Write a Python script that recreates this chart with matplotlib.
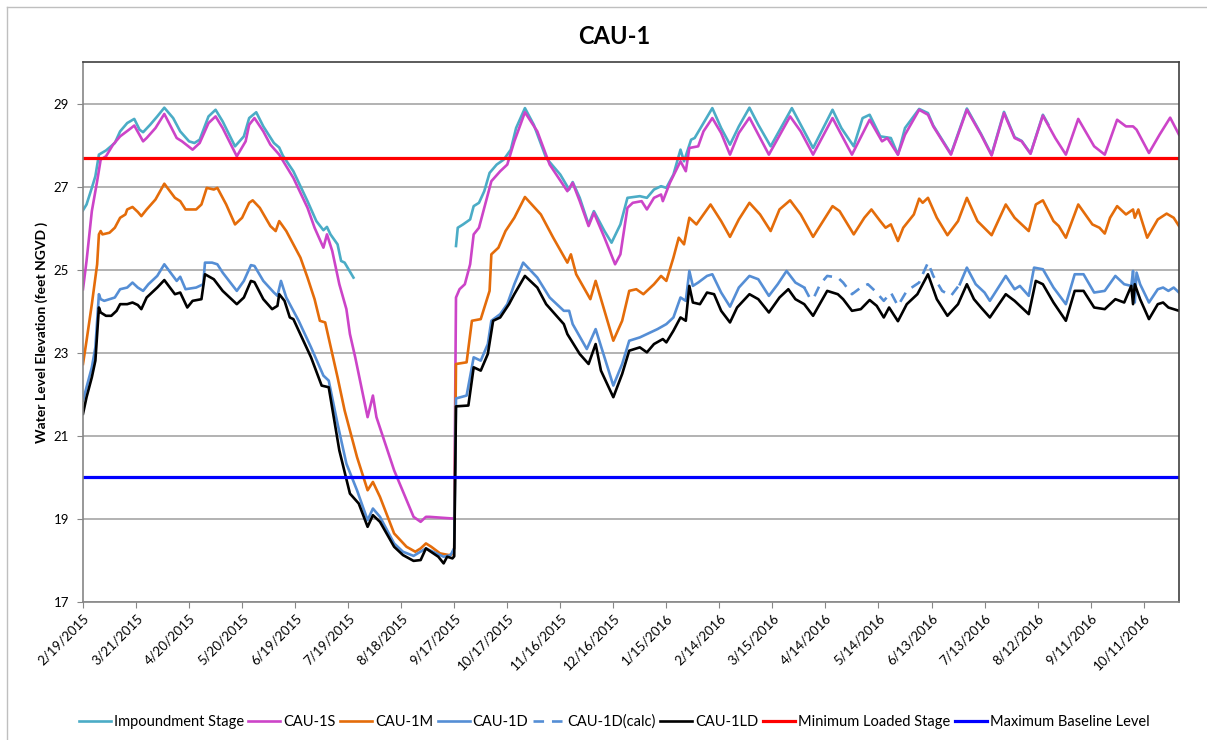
from datetime import datetime, timedelta
import numpy as np
import matplotlib
matplotlib.use('Agg')
import matplotlib.pyplot as plt
from matplotlib.lines import Line2D

plt.rcParams['font.family'] = ['Lato', 'DejaVu Sans']

# data: day offsets from 2/19/2015, water levels in feet
start = datetime(2015, 2, 19)

imp_days_a = [0, 2, 5, 7, 9, 13, 18, 21, 25, 29, 32, 34, 38, 42, 46, 51, 55, 60, 63, 66,
              71, 75, 79, 86, 91, 94, 98, 102, 108, 111, 113, 119, 127, 132, 136, 138,
              140, 144, 146, 148, 153]
imp_vals_a = [26.43, 26.57, 26.97, 27.25, 27.77, 27.87, 28.05, 28.33, 28.53, 28.63, 28.37,
              28.31, 28.49, 28.69, 28.90, 28.65, 28.33, 28.09, 28.05, 28.13, 28.69, 28.85,
              28.57, 27.97, 28.21, 28.65, 28.79, 28.45, 28.05, 27.94, 27.75, 27.37, 26.65,
              26.17, 25.95, 26.03, 25.85, 25.61, 25.21, 25.17, 24.81]
imp_days_b = [211, 212, 215, 219, 221, 224, 227, 230, 234, 238, 242, 245, 250, 255, 262,
              270, 275, 277, 281, 286, 289, 295, 299, 304, 308, 315, 319, 323, 327, 330,
              334, 338, 340, 344, 346, 351, 356, 361, 366, 371, 377, 382, 389, 401, 406,
              413, 424, 429, 436, 441, 445, 451, 457, 461, 465, 473, 478, 481, 491, 500,
              508, 514, 521, 527, 531, 536, 543, 546]
imp_vals_b = [25.57, 26.01, 26.09, 26.21, 26.53, 26.61, 26.89, 27.33, 27.53, 27.65, 27.89,
              28.41, 28.89, 28.49, 27.69, 27.29, 26.93, 27.11, 26.73, 26.09, 26.41, 25.93,
              25.65, 26.09, 26.73, 26.77, 26.73, 26.93, 27.01, 26.97, 27.29, 27.89, 27.61,
              28.13, 28.17, 28.53, 28.89, 28.41, 28.01, 28.45, 28.90, 28.49, 27.97, 28.89,
              28.49, 27.93, 28.85, 28.41, 27.97, 28.65, 28.73, 28.21, 28.17, 27.77, 28.41,
              28.87, 28.77, 28.47, 27.79, 28.88, 28.27, 27.77, 28.80, 28.19, 28.10, 27.80,
              28.73, 28.50]

s_days = [0, 2, 5, 8, 10, 13, 17, 21, 26, 29, 34, 36, 41, 46, 53, 56, 62, 66, 71, 75, 79,
          87, 92, 94, 97, 102, 106, 111, 119, 127, 131, 136, 138, 141, 145, 149, 151, 154,
          161, 164, 166, 176, 187, 191, 194, 196, 209, 210, 211, 213, 216, 219, 221, 224,
          228, 231, 236, 240, 244, 250, 257, 264, 274, 277, 281, 286, 289, 295, 301, 304,
          308, 311, 316, 319, 323, 327, 328, 332, 338, 341, 343, 348, 351, 356, 361, 366,
          371, 377, 388, 400, 406, 413, 424, 435, 445, 452, 455, 461, 465, 473, 478, 481,
          491, 500, 508, 514, 521, 527, 531, 536, 543, 550, 556, 563, 572, 578, 585, 590,
          594, 596, 603, 609, 615, 620]
s_vals = [24.53, 25.21, 26.41, 27.13, 27.65, 27.73, 28.01, 28.21, 28.37, 28.47, 28.09,
          28.17, 28.41, 28.75, 28.17, 28.09, 27.89, 28.05, 28.53, 28.69, 28.41, 27.73, 28.09,
          28.49, 28.65, 28.33, 28.01, 27.77, 27.21, 26.49, 26.01, 25.53, 25.85, 25.45, 24.65,
          24.05, 23.45, 22.89, 21.45, 21.97, 21.45, 20.17, 19.05, 18.93, 19.05, 19.05, 19.01,
          19.00, 24.33, 24.53, 24.65, 25.13, 25.85, 26.01, 26.65, 27.13, 27.37, 27.53, 28.09,
          28.79, 28.33, 27.53, 26.89, 27.09, 26.65, 26.05, 26.37, 25.77, 25.13, 25.37, 26.49,
          26.61, 26.65, 26.45, 26.73, 26.81, 26.65, 27.09, 27.61, 27.37, 27.93, 27.97, 28.33,
          28.65, 28.29, 27.77, 28.29, 28.66, 27.77, 28.69, 28.33, 27.77, 28.65, 27.77, 28.61,
          28.09, 28.17, 27.77, 28.25, 28.85, 28.73, 28.45, 27.77, 28.85, 28.25, 27.75, 28.77,
          28.17, 28.09, 27.79, 28.71, 28.17, 27.77, 28.63, 27.97, 27.77, 28.61, 28.45, 28.45,
          28.37, 27.81, 28.25, 28.66, 28.25]

m_days = [0, 2, 5, 8, 9, 10, 11, 15, 18, 21, 24, 25, 28, 31, 33, 36, 41, 46, 52, 55, 58,
          64, 67, 70, 74, 76, 81, 86, 90, 94, 96, 100, 106, 109, 111, 115, 123, 127, 131,
          134, 137, 144, 148, 155, 161, 164, 168, 176, 183, 188, 191, 194, 197, 202, 207,
          209, 210, 211, 217, 220, 225, 230, 231, 235, 239, 244, 250, 259, 266, 274, 276,
          279, 287, 290, 295, 300, 305, 309, 313, 317, 323, 327, 330, 334, 337, 340, 343,
          347, 355, 361, 366, 371, 377, 383, 389, 394, 400, 406, 413, 424, 428, 436, 442,
          446, 451, 454, 457, 461, 464, 470, 473, 475, 478, 483, 489, 495, 500, 506, 514,
          522, 527, 531, 535, 539, 543, 549, 552, 556, 563, 571, 575, 578, 581, 585, 590,
          594, 595, 597, 602, 608, 613, 617, 620]
m_vals = [22.73, 23.29, 24.17, 25.13, 25.85, 25.93, 25.85, 25.89, 26.01, 26.25, 26.33,
          26.45, 26.51, 26.39, 26.29, 26.45, 26.69, 27.07, 26.73, 26.65, 26.45, 26.45, 26.57,
          26.97, 26.93, 26.97, 26.57, 26.09, 26.25, 26.61, 26.67, 26.49, 26.05, 25.93, 26.17,
          25.93, 25.29, 24.81, 24.29, 23.77, 23.73, 22.41, 21.61, 20.49, 19.69, 19.89, 19.53,
          18.65, 18.33, 18.21, 18.29, 18.41, 18.33, 18.17, 18.13, 18.15, 18.30, 22.73, 22.77,
          23.77, 23.81, 24.49, 25.37, 25.53, 25.93, 26.25, 26.75, 26.33, 25.77, 25.17, 25.37,
          24.89, 24.29, 24.73, 24.01, 23.29, 23.77, 24.49, 24.53, 24.41, 24.65, 24.85, 24.73,
          25.29, 25.77, 25.61, 26.25, 26.09, 26.57, 26.17, 25.79, 26.21, 26.61, 26.33, 25.93,
          26.45, 26.67, 26.33, 25.79, 26.53, 26.41, 25.85, 26.25, 26.45, 26.17, 26.01, 26.09,
          25.69, 26.01, 26.33, 26.71, 26.61, 26.73, 26.25, 25.83, 26.17, 26.73, 26.17, 25.83,
          26.57, 26.25, 26.09, 25.93, 26.57, 26.67, 26.17, 26.05, 25.77, 26.57, 26.09, 26.01,
          25.87, 26.25, 26.53, 26.33, 26.45, 26.25, 26.45, 25.77, 26.21, 26.35, 26.25, 26.05]

d_days = [0, 2, 5, 7, 9, 10, 12, 15, 18, 21, 25, 28, 31, 34, 37, 42, 46, 53, 55, 58, 64,
          68, 69, 73, 76, 79, 87, 91, 95, 97, 102, 108, 110, 112, 115, 122, 129, 136, 139,
          144, 149, 155, 161, 164, 168, 176, 181, 187, 194, 198, 204, 208, 210, 211, 217,
          221, 225, 229, 231, 236, 240, 244, 249, 257, 264, 272, 275, 277, 285, 290, 300,
          305, 309, 315, 319, 325, 330, 334, 338, 341, 343, 345, 348, 353, 356, 361, 366,
          371, 377, 382, 388, 393, 398, 403, 408, None, 496, 500, 505, 510, 513, 522, 527,
          530, 535, 538, 543, 549, 556, 561, 566, 572, 578, 584, 589, 593, 594, 595, 596,
          598, 603, 608, 611, 614, 617, 620]
d_vals = [21.85, 22.17, 22.65, 23.13, 24.41, 24.29, 24.25, 24.29, 24.33, 24.53, 24.57,
          24.69, 24.57, 24.49, 24.65, 24.85, 25.13, 24.73, 24.83, 24.53, 24.57, 24.65, 25.17,
          25.17, 25.13, 24.93, 24.49, 24.73, 25.11, 25.09, 24.73, 24.45, 24.37, 24.73, 24.33,
          23.77, 23.13, 22.45, 22.33, 21.29, 20.33, 19.69, 18.97, 19.25, 19.05, 18.41, 18.21,
          18.11, 18.29, 18.21, 18.09, 18.13, 18.30, 21.90, 21.97, 22.89, 22.81, 23.21, 23.77,
          23.93, 24.17, 24.65, 25.17, 24.81, 24.33, 24.01, 24.01, 23.69, 23.09, 23.57, 22.21,
          22.73, 23.29, 23.37, 23.45, 23.57, 23.69, 23.85, 24.33, 24.25, 24.97, 24.61, 24.69,
          24.85, 24.89, 24.45, 24.11, 24.57, 24.85, 24.77, 24.37, 24.65, 24.97, 24.69, 24.57,
          None, 24.65, 25.05, 24.65, 24.45, 24.25, 24.85, 24.53, 24.61, 24.37, 25.05, 25.01,
          24.57, 24.17, 24.89, 24.89, 24.45, 24.49, 24.85, 24.65, 24.61, 24.97, 24.21, 24.93,
          24.65, 24.21, 24.53, 24.57, 24.49, 24.57, 24.45]

calc_days = [408, 411, 413, 417, 421, 427, 430, 435, 440, 444, 448, 453, 457, 461, 466,
             473, 475, 478, 481, 486, 491, 496]
calc_vals = [24.57, 24.33, 24.29, 24.65, 24.85, 24.81, 24.69, 24.41, 24.57, 24.65, 24.49,
             24.25, 24.45, 24.13, 24.49, 24.69, 24.89, 25.17, 24.85, 24.49, 24.37, 24.65]

ld_days = [0, 2, 5, 7, 9, 10, 13, 16, 19, 21, 25, 28, 31, 33, 36, 42, 46, 52, 55, 59, 62,
           67, 69, 74, 79, 87, 91, 95, 97, 102, 107, 110, 111, 114, 117, 119, 129, 135,
           139, 145, 151, 156, 161, 164, 168, 176, 181, 187, 191, 194, 201, 204, 206, 209,
           210, 211, 218, 221, 225, 229, 232, 236, 241, 244, 250, 257, 262, 272, 274, 281,
           286, 290, 293, 300, 305, 309, 315, 319, 323, 328, 330, 334, 338, 341, 343, 345,
           349, 353, 357, 361, 366, 370, 377, 382, 388, 394, 399, 403, 408, 413, 421, 427,
           430, 435, 440, 445, 449, 453, 456, 461, 466, 472, 474, 478, 483, 489, 495, 500,
           504, 508, 513, 522, 527, 535, 539, 543, 549, 556, 561, 566, 572, 578, 584, 589,
           593, 594, 595, 598, 603, 608, 611, 614, 620]
ld_vals = [21.53, 21.93, 22.41, 22.81, 24.09, 23.97, 23.89, 23.89, 24.01, 24.17, 24.17,
           24.21, 24.15, 24.05, 24.33, 24.57, 24.75, 24.41, 24.45, 24.09, 24.25, 24.29, 24.89,
           24.77, 24.49, 24.17, 24.33, 24.73, 24.70, 24.29, 24.05, 24.13, 24.41, 24.25, 23.85,
           23.81, 22.89, 22.21, 22.17, 20.65, 19.61, 19.37, 18.81, 19.09, 18.93, 18.33, 18.13,
           17.99, 18.01, 18.29, 18.09, 17.93, 18.09, 18.05, 18.10, 21.71, 21.73, 22.65, 22.57,
           22.97, 23.77, 23.85, 24.17, 24.41, 24.85, 24.57, 24.17, 23.69, 23.45, 22.97, 22.73,
           23.21, 22.57, 21.93, 22.49, 23.05, 23.13, 23.01, 23.21, 23.33, 23.25, 23.53, 23.85,
           23.77, 24.61, 24.21, 24.17, 24.45, 24.41, 24.01, 23.73, 24.09, 24.41, 24.29, 23.97,
           24.33, 24.53, 24.29, 24.17, 23.89, 24.49, 24.41, 24.29, 24.01, 24.05, 24.27, 24.13,
           23.85, 24.09, 23.76, 24.17, 24.41, 24.57, 24.89, 24.29, 23.89, 24.17, 24.65, 24.29,
           24.09, 23.85, 24.41, 24.25, 23.93, 24.73, 24.65, 24.21, 23.77, 24.49, 24.49, 24.09,
           24.05, 24.29, 24.21, 24.61, 24.17, 24.65, 24.29, 23.81, 24.17, 24.21, 24.09, 24.01]

min_loaded_stage = 27.7
max_baseline_level = 20.0
n_days = 620


def series(days, vals):
    x = np.array([np.datetime64(start + timedelta(days=d)) if d is not None
                  else np.datetime64('NaT') for d in days])
    y = np.array([v if v is not None else np.nan for v in vals], dtype=float)
    return x, y


fig = plt.figure(figsize=(12.07, 7.40), dpi=100)
ax = fig.add_axes([83 / 1207, 1 - 602 / 740, (1179 - 83) / 1207, (602 - 62) / 740])

c_imp = '#4BACC6'
c_s = '#CC44C8'
c_m = '#E46C0A'
c_d = '#558ED5'
lw = 1.9

ax.plot(*series(imp_days_a, imp_vals_a), color=c_imp, lw=lw, label='Impoundment Stage')
ax.plot(*series(imp_days_b, imp_vals_b), color=c_imp, lw=lw)
ax.plot(*series(s_days, s_vals), color=c_s, lw=lw, label='CAU-1S')
ax.plot(*series(m_days, m_vals), color=c_m, lw=lw, label='CAU-1M')
ax.plot(*series(d_days, d_vals), color=c_d, lw=lw, label='CAU-1D')
ax.plot(*series(calc_days, calc_vals), color=c_d, lw=lw, ls=(0, (4, 3)), label='CAU-1D(calc)')
ax.plot(*series(ld_days, ld_vals), color='black', lw=lw, label='CAU-1LD')
ax.axhline(min_loaded_stage, color='#FF0000', lw=2.3, label='Minimum Loaded Stage')
ax.axhline(max_baseline_level, color='#0000FF', lw=2.3, label='Maximum Baseline Level')

ax.set_ylim(17, 30)
ax.set_yticks(np.arange(17, 30, 2))
ax.set_xlim(np.datetime64(start), np.datetime64(start + timedelta(days=n_days)))
tick_dates = [start + timedelta(days=30 * k) for k in range(21)]
ax.set_xticks([np.datetime64(d) for d in tick_dates])
ax.set_xticklabels(['%d/%d/%d' % (d.month, d.day, d.year) for d in tick_dates],
                   rotation=45, ha='right', rotation_mode='anchor', fontsize=9.5)
ax.tick_params(axis='y', labelsize=9.5, length=4, color='#868686', pad=6)
ax.tick_params(axis='x', length=4, color='#868686', pad=3)
ax.grid(axis='y', color='#A6A6A6', lw=1.2)
ax.set_axisbelow(True)
for side in ['left', 'bottom']:
    ax.spines[side].set_color('#868686')
for side in ['top', 'right']:
    ax.spines[side].set_color('#404040')
for sp in ax.spines.values():
    sp.set_linewidth(1.2)

fig.text(614 / 1207, 1 - 37 / 740, 'CAU-1', ha='center', va='center',
         fontsize=17, fontweight='bold')
fig.text(42 / 1207, 1 - 332 / 740, 'Water Level Elevation (feet NGVD )', rotation=90,
         ha='center', va='center', fontsize=10, fontweight='bold')

fig.legend(loc='center', bbox_to_anchor=(614 / 1207, 1 - 722 / 740), ncol=8,
           frameon=False, fontsize=10.5, handlelength=2.2, handletextpad=0.2,
           columnspacing=0.3)

# light border round the chart area
fig.add_artist(Line2D([7 / 1207, 7 / 1207], [0, 1 - 7 / 740], color='#BFBFBF', lw=1,
                      transform=fig.transFigure))
fig.add_artist(Line2D([7 / 1207, 1], [1 - 7 / 740, 1 - 7 / 740], color='#BFBFBF', lw=1,
                      transform=fig.transFigure))

plt.savefig('out.png', dpi=100)
